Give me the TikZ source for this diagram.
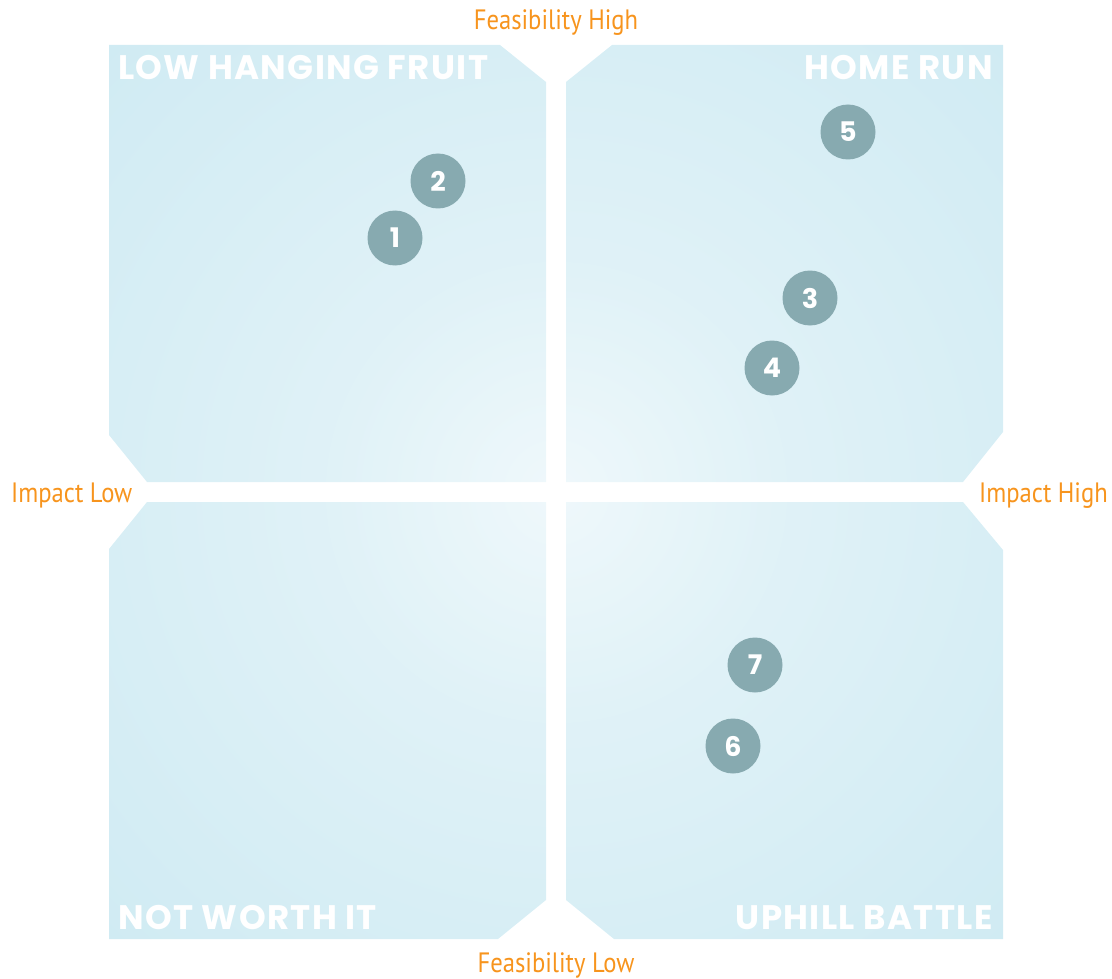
\documentclass[tikz,border=0pt]{standalone}
\usepackage{fontspec}
\usetikzlibrary{positioning}
\newfontfamily\axisfont[FakeStretch=0.88]{PT Sans}
\newfontfamily\blockfont{Poppins}
\definecolor{quadblue}{HTML}{D0EBF3}
\definecolor{quadglow}{HTML}{EFF8FB}
\definecolor{dotgrey}{HTML}{87AAB0}
\definecolor{axisorange}{HTML}{F7941D}
\pgfdeclareradialshading{glow}{\pgfpoint{0bp}{0bp}}{color(0bp)=(quadglow); color(8bp)=(quadglow!50!quadblue); color(22bp)=(quadblue); color(50bp)=(quadblue)}
\tikzset{
  dot/.style={circle, fill=dotgrey, minimum size=55pt, inner sep=0pt, text=white,
              font=\blockfont\bfseries\fontsize{27}{27}\selectfont},
  qlbl/.style={text=white, inner sep=0pt,
               font=\blockfont\bfseries\addfontfeatures{LetterSpace=4}\fontsize{34}{34}\selectfont},
  axlbl/.style={text=axisorange, inner sep=0pt, font=\axisfont\fontsize{28}{28}\selectfont},
}

\begin{document}
\begin{tikzpicture}[x=1pt, y=-1pt]
  \useasboundingbox (0,0) rectangle (1112,979);
  % four quadrants, one glow across them
  \begin{scope}
    \clip (109,45) -- (500,45) -- (546,82) -- (546,482) -- (147,482) -- (109,435) -- cycle
          (612,45) -- (1003,45) -- (1003,432) -- (963,482) -- (566,482) -- (566,82) -- cycle
          (109,549) -- (147,502) -- (546,502) -- (546,900) -- (498,939) -- (109,939) -- cycle
          (566,502) -- (963,502) -- (1003,550) -- (1003,939) -- (614,939) -- (566,900) -- cycle;
    \shade[shading=glow] (556,492) circle (720pt);
  \end{scope}

  \node[qlbl, anchor=base west](lhf) at (118,80) {LOW HANGING FRUIT};
  \node[qlbl, anchor=base east](hr) at (993,80) {HOME RUN};
  \node[qlbl, anchor=base west](nwi) at (118,929) {NOT WORTH IT};
  \node[qlbl, anchor=base east](ub) at (993,929) {UPHILL BATTLE};

  \node[axlbl, anchor=base](fh) at (556,30) {Feasibility High};
  \node[axlbl, anchor=base](fl) at (556,972) {Feasibility Low};
  \node[axlbl, anchor=base west](il) at (11,502) {Impact Low};
  \node[axlbl, anchor=base east](ih) at (1108,502) {Impact High};

  \node[dot](p1) at (395,238) {1};
  \node[dot](p2) at (438,181) {2};
  \node[dot](p3) at (810,298) {3};
  \node[dot](p4) at (772,368) {4};
  \node[dot](p5) at (848,132) {5};
  \node[dot](p6) at (733,746) {6};
  \node[dot](p7) at (755,665) {7};
\end{tikzpicture}
\end{document}
